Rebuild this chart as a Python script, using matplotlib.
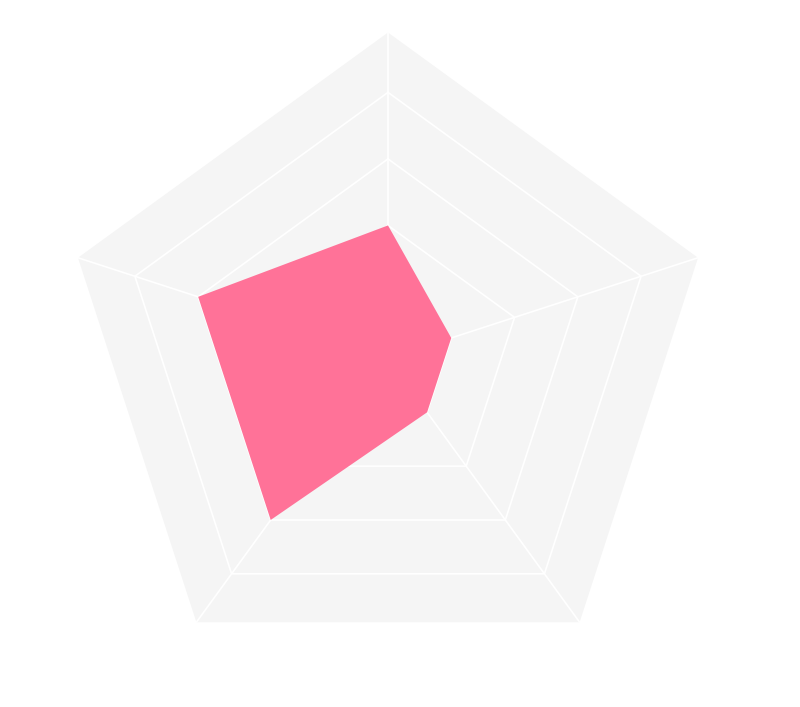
import numpy as np
import matplotlib
matplotlib.use("Agg")
import matplotlib.pyplot as plt

categories = ["A", "B", "C", "D", "E"]   # counter-clockwise from top (no labels shown)
values = [2, 3, 3, 1, 1]
ring_levels = [1, 2, 3, 4]
r_max = 4.9

W, H = 800, 707
fig = plt.figure(figsize=(W / 100, H / 100), dpi=100)
fig.patch.set_facecolor("white")

cx, cy, R = 388, 358.5, 326
ax = fig.add_axes([(cx - R) / W, 1 - (cy + R) / H, 2 * R / W, 2 * R / H], projection="polar")
ax.set_theta_zero_location("N")
ax.set_theta_direction(1)
ax.set_ylim(0, r_max)
ax.axis("off")

n = len(categories)
theta = np.arange(n) * 2 * np.pi / n
theta_c = np.append(theta, theta[0])

# split area background
ax.fill(theta_c, [r_max] * (n + 1), color="#f5f5f5", lw=0, zorder=1)
# split lines (rings)
for lv in ring_levels:
    ax.plot(theta_c, [lv] * (n + 1), color="white", lw=1.2, zorder=2)
# axis lines
for t in theta:
    ax.plot([t, t], [0, r_max], color="white", lw=1.2, zorder=2)

# data polygon
vals_c = values + values[:1]
ax.fill(theta_c, vals_c, color="#ff7298", lw=0, zorder=3)

fig.savefig("out.png", dpi=100, facecolor="white")
